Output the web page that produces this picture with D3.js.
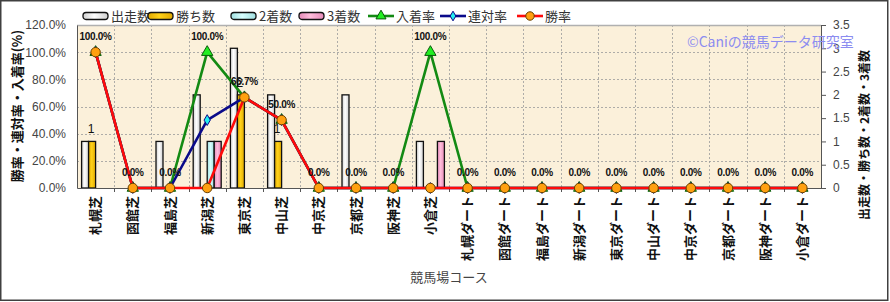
<!DOCTYPE html>
<html>
<head>
<meta charset="utf-8">
<script src="https://cdn.jsdelivr.net/npm/d3@7"></script>
<style>
  body { margin: 0; background: #fff; }
  svg { display: block; }
  .jp { font-family: "Noto Sans CJK JP", sans-serif; }
  .num { font-family: "Liberation Sans", Arial, sans-serif; }
</style>
</head>
<body>
<div id="chart"></div>
<script>
// ---- data ----
const courses = ["札幌芝", "函館芝", "福島芝", "新潟芝", "東京芝", "中山芝", "中京芝", "京都芝", "阪神芝", "小倉芝",
  "札幌ダート", "函館ダート", "福島ダート", "新潟ダート", "東京ダート", "中山ダート", "中京ダート", "京都ダート", "阪神ダート", "小倉ダート"];
const starts  = [1, 0, 1, 2, 3, 2, 0, 2, 0, 1, 0, 0, 0, 0, 0, 0, 0, 0, 0, 0];
const wins    = [1, 0, 0, 0, 2, 1, 0, 0, 0, 0, 0, 0, 0, 0, 0, 0, 0, 0, 0, 0];
const seconds = [0, 0, 0, 1, 0, 0, 0, 0, 0, 0, 0, 0, 0, 0, 0, 0, 0, 0, 0, 0];
const thirds  = [0, 0, 0, 1, 0, 0, 0, 0, 0, 1, 0, 0, 0, 0, 0, 0, 0, 0, 0, 0];
const placeRate  = [100, 0, 0, 100, 66.7, 50, 0, 0, 0, 100, 0, 0, 0, 0, 0, 0, 0, 0, 0, 0];
const rentaiRate = [100, 0, 0, 50, 66.7, 50, 0, 0, 0, 0, 0, 0, 0, 0, 0, 0, 0, 0, 0, 0];
const winRate    = [100, 0, 0, 0, 66.7, 50, 0, 0, 0, 0, 0, 0, 0, 0, 0, 0, 0, 0, 0, 0];
const leftTicks  = [0, 20, 40, 60, 80, 100, 120];
const rightTicks = [0, 0.5, 1, 1.5, 2, 2.5, 3, 3.5];

const barSeries = [
  {name: "出走数", values: starts,  grad: "gWhite"},
  {name: "勝ち数", values: wins,    grad: "gGold"},
  {name: "2着数",  values: seconds, grad: "gCyan"},
  {name: "3着数",  values: thirds,  grad: "gPink"}
];
const lineSeries = [
  {name: "入着率", values: placeRate,  color: "#138a13", symbol: d3.symbolTriangle, size: 55, fill: "#22ee22", stroke: "#0a5a0a"},
  {name: "連対率", values: rentaiRate, color: "#0a0a8a", symbol: d3.symbolDiamond,  size: 34, fill: "#22eeee", stroke: "#0a0a8a"},
  {name: "勝率",   values: winRate,    color: "#ff0a0a", symbol: d3.symbolCircle,   size: 70, fill: "#ffa010", stroke: "#6a4000"}
];

// ---- layout ----
const W = 890, H = 302;
const plot = {left: 77, right: 821, top: 25, bottom: 188};

const svg = d3.select("#chart").append("svg")
  .attr("width", W).attr("height", H);

// gradients
const defs = svg.append("defs");
function grad(id, edge, mid) {
  const g = defs.append("linearGradient").attr("id", id)
    .attr("x1", "0%").attr("x2", "100%").attr("y1", "0%").attr("y2", "0%");
  g.append("stop").attr("offset", "0%").attr("stop-color", edge);
  g.append("stop").attr("offset", "45%").attr("stop-color", mid);
  g.append("stop").attr("offset", "100%").attr("stop-color", edge);
}
grad("gWhite", "#cfcfcf", "#ffffff");
grad("gGold", "#e0a800", "#ffd21a");
grad("gCyan", "#9fdede", "#d8ffff");
grad("gPink", "#e58ab8", "#ffbddc");

// outer frame
svg.append("rect")
  .attr("x", 0.75).attr("y", 0.75).attr("width", 887).attr("height", 299.5)
  .attr("fill", "#fff").attr("stroke", "#404040").attr("stroke-width", 1.5);

// scales
const x = d3.scaleBand().domain(courses).range([plot.left, plot.right]).padding(0);
const xIn = d3.scaleBand().domain(barSeries.map(d => d.name)).range([-14, 14]).padding(0);
const yL = d3.scaleLinear().domain([0, 120]).range([plot.bottom, plot.top]);
const yR = d3.scaleLinear().domain([0, 3.5]).range([plot.bottom, plot.top]);
const cx = c => x(c) + x.bandwidth() / 2;

// plot background
svg.append("rect")
  .attr("x", plot.left).attr("y", plot.top)
  .attr("width", plot.right - plot.left).attr("height", plot.bottom - plot.top)
  .attr("fill", "#fbf0da");

// grid
const grid = svg.append("g").attr("stroke", "#9a9a9a").attr("stroke-dasharray", "2,2").attr("stroke-width", 0.8);
grid.selectAll(".hg").data(leftTicks.filter(t => t > 0 && t < 120)).enter().append("line")
  .attr("x1", plot.left).attr("x2", plot.right)
  .attr("y1", d => Math.round(yL(d)) + 0.5).attr("y2", d => Math.round(yL(d)) + 0.5);
grid.selectAll(".vg").data(courses.slice(1)).enter().append("line")
  .attr("x1", d => Math.round(x(d)) + 0.5).attr("x2", d => Math.round(x(d)) + 0.5)
  .attr("y1", plot.top).attr("y2", plot.bottom);

// top border of plot
svg.append("line").attr("x1", plot.left).attr("x2", plot.right)
  .attr("y1", plot.top + 0.5).attr("y2", plot.top + 0.5)
  .attr("stroke", "#b0b0b0").attr("stroke-width", 1.5);

// bars
const bars = svg.append("g");
barSeries.forEach(s => {
  bars.selectAll(null).data(courses.map((c, i) => ({c, v: s.values[i]})).filter(d => d.v > 0))
    .enter().append("rect")
    .attr("x", d => cx(d.c) + xIn(s.name))
    .attr("width", xIn.bandwidth())
    .attr("y", d => yR(d.v))
    .attr("height", d => yR(0) - yR(d.v))
    .attr("fill", `url(#${s.grad})`)
    .attr("stroke", "#111").attr("stroke-width", 1.3);
});

// axes
const fontNum = "'Liberation Sans', Arial, sans-serif";
const axL = svg.append("g").attr("transform", `translate(${plot.left},0)`)
  .call(d3.axisLeft(yL).tickValues(leftTicks).tickSize(0).tickPadding(11).tickFormat(d => d3.format(".1f")(d) + "%"));
axL.select(".domain").attr("stroke", "#555");
axL.selectAll("text").attr("font-family", fontNum).attr("font-size", 12).attr("fill", "#444");

const axR = svg.append("g").attr("transform", `translate(${plot.right},0)`)
  .call(d3.axisRight(yR).tickValues(rightTicks).tickSize(5).tickPadding(7).tickFormat(d3.format("~g")));
axR.select(".domain").attr("stroke", "#555");
axR.selectAll("line").attr("stroke", "#555");
axR.selectAll("text").attr("font-family", fontNum).attr("font-size", 12).attr("fill", "#444");

const axB = svg.append("g").attr("transform", `translate(0,${plot.bottom})`)
  .call(d3.axisBottom(x).tickValues([]).tickSizeOuter(0));
axB.select(".domain").attr("stroke", "#555").attr("stroke-width", 1.2);
axB.selectAll(".btick").data(courses.slice(1)).enter().append("line")
  .attr("x1", d => Math.round(x(d)) + 0.5).attr("x2", d => Math.round(x(d)) + 0.5)
  .attr("y1", 0).attr("y2", 4).attr("stroke", "#555");

// x tick labels (rotated)
svg.append("g").selectAll("text").data(courses).enter().append("text")
  .attr("class", "jp")
  .attr("transform", d => `translate(${cx(d)},${plot.bottom + 8}) rotate(-90)`)
  .attr("text-anchor", "end").attr("dy", "0.36em")
  .attr("font-size", 13).attr("font-weight", "bold").attr("fill", "#111")
  .text(d => d);

// lines + markers
lineSeries.forEach(s => {
  const pts = courses.map((c, i) => [cx(c), yL(s.values[i])]);
  svg.append("path").attr("d", d3.line()(pts))
    .attr("fill", "none").attr("stroke", s.color).attr("stroke-width", 2.6)
    .attr("stroke-linejoin", "round");
  svg.append("g").selectAll("path").data(pts).enter().append("path")
    .attr("transform", d => `translate(${d[0]},${d[1]})`)
    .attr("d", d3.symbol().type(s.symbol).size(s.size))
    .attr("fill", s.fill).attr("stroke", s.stroke).attr("stroke-width", 1);
});

// data labels: win counts and place rate
svg.append("g").selectAll("text").data(courses.map((c, i) => ({c, v: wins[i]})).filter(d => d.v > 0))
  .enter().append("text")
  .attr("x", d => cx(d.c) + xIn("勝ち数") + xIn.bandwidth() / 2 - 1)
  .attr("y", d => yR(d.v) - 8)
  .attr("text-anchor", "middle").attr("font-family", fontNum).attr("font-size", 12).attr("fill", "#111")
  .text(d => d.v);

svg.append("g").selectAll("text").data(courses.map((c, i) => ({c, v: placeRate[i]})))
  .enter().append("text")
  .attr("x", d => cx(d.c))
  .attr("y", d => yL(d.v) - 12)
  .attr("text-anchor", "middle").attr("font-family", fontNum).attr("font-size", 10)
  .attr("font-weight", "bold").attr("fill", "#111").attr("letter-spacing", -0.3)
  .text(d => d3.format(".1f")(d.v) + "%");

// watermark
svg.append("text").attr("class", "jp")
  .attr("x", 687).attr("y", 47)
  .attr("font-size", 14).attr("fill", "#8c8cf0")
  .text("©Caniの競馬データ研究室");

// axis titles
svg.append("text").attr("class", "jp")
  .attr("transform", "translate(17,106) rotate(-90)")
  .attr("text-anchor", "middle").attr("dy", "0.36em")
  .attr("font-size", 13).attr("font-weight", "bold").attr("fill", "#111")
  .text("勝率・連対率・入着率(%)");
svg.append("text").attr("class", "jp")
  .attr("transform", "translate(865,135) rotate(-90)")
  .attr("text-anchor", "middle").attr("dy", "0.36em")
  .attr("font-size", 12).attr("font-weight", "bold").attr("fill", "#111")
  .text("出走数・勝ち数・2着数・3着数");
svg.append("text").attr("class", "jp")
  .attr("x", 449).attr("y", 282)
  .attr("text-anchor", "middle").attr("font-size", 13).attr("fill", "#444")
  .text("競馬場コース");

// legend
const legendPos = [83, 148, 231, 299, 368, 440, 517];
const legend = svg.append("g");
barSeries.forEach((s, i) => {
  const g = legend.append("g").attr("transform", `translate(${legendPos[i]},16)`);
  g.append("rect").attr("x", 0).attr("y", -3.5).attr("width", 25).attr("height", 7).attr("rx", 3)
    .attr("fill", `url(#${s.grad})`).attr("stroke", "#111").attr("stroke-width", 1.3);
  g.append("text").attr("class", "jp").attr("x", 28).attr("dy", "0.36em")
    .attr("font-size", 13).attr("fill", "#333").text(s.name);
});
lineSeries.forEach((s, i) => {
  const g = legend.append("g").attr("transform", `translate(${legendPos[i + 4]},16)`);
  g.append("line").attr("x1", 0).attr("x2", 26).attr("stroke", s.color).attr("stroke-width", 2.6);
  g.append("path").attr("transform", "translate(13,0)")
    .attr("d", d3.symbol().type(s.symbol).size(s.size * 0.8))
    .attr("fill", s.fill).attr("stroke", s.stroke).attr("stroke-width", 1);
  g.append("text").attr("class", "jp").attr("x", 28).attr("dy", "0.36em")
    .attr("font-size", 13).attr("fill", "#333").text(s.name);
});
</script>
</body>
</html>
